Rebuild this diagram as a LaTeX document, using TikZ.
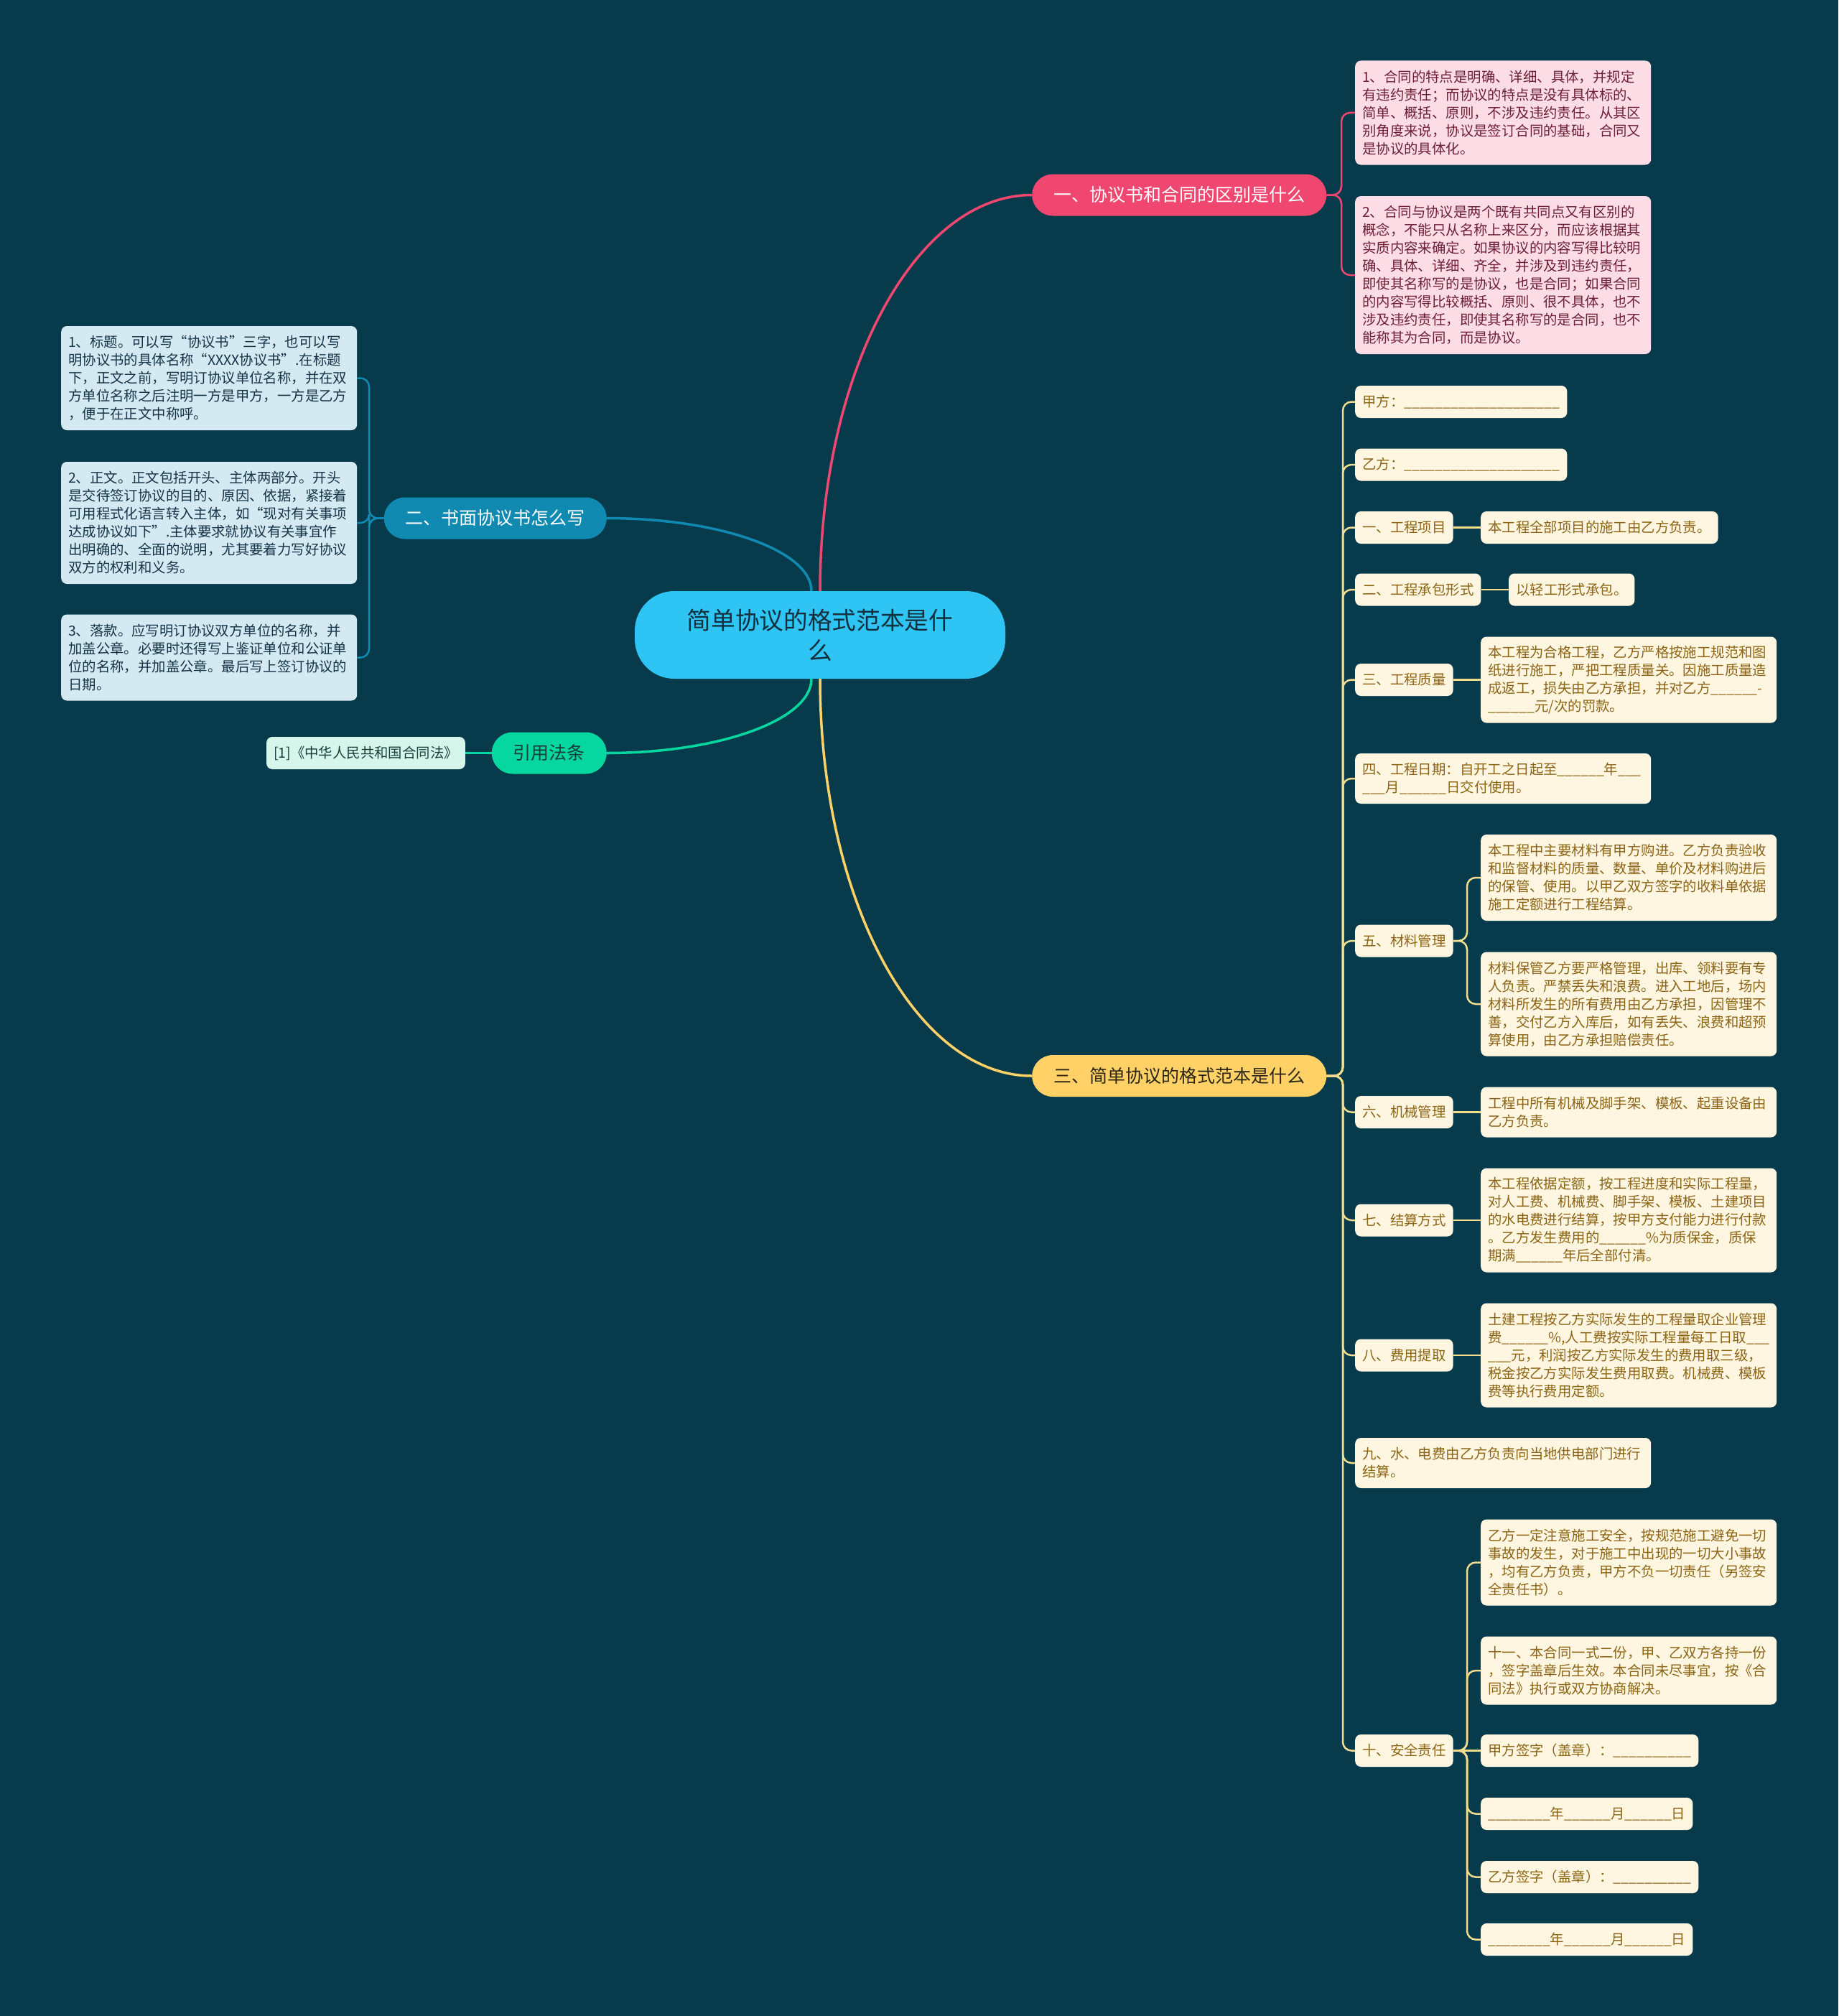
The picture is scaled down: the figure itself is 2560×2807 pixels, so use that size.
\documentclass[tikz,border=0pt]{standalone}
\usepackage{fontspec}
\setmainfont{Noto Sans CJK SC}
\definecolor{grund}{HTML}{073B4C}
\definecolor{kernfarbe}{HTML}{2EC4F3}
\definecolor{kerntext}{HTML}{14303F}
\definecolor{rot}{HTML}{EF476F}
\definecolor{rosa}{HTML}{FCDDE5}
\definecolor{rosatext}{HTML}{6D1F35}
\definecolor{blau}{HTML}{118AB2}
\definecolor{hellblau}{HTML}{D4E9F1}
\definecolor{blautext}{HTML}{163447}
\definecolor{gruen}{HTML}{06D6A0}
\definecolor{mint}{HTML}{D6F6EC}
\definecolor{gruentext}{HTML}{163F38}
\definecolor{gelb}{HTML}{FFD166}
\definecolor{gelblinie}{HTML}{F2DC8E}
\definecolor{creme}{HTML}{FEF6E1}
\definecolor{gelbtext}{HTML}{8C6414}
\definecolor{asttext}{HTML}{2B2616}
\newcommand{\luecke}[1]{\foreach \i in {1,...,#1}{\_}}
\tikzset{
  kern/.style={fill=kernfarbe, text=kerntext, rounded corners=55pt, minimum width=516pt,
    minimum height=122pt, align=center, inner sep=0pt, font=\fontsize{33.7}{42}\selectfont},
  ast/.style={fill=#1, rounded corners=29pt, minimum height=58pt, inner xsep=30pt,
    inner ysep=0pt, font=\fontsize{25}{30}\selectfont},
  blatt/.style={rounded corners=8pt, inner xsep=10pt, inner ysep=0pt, align=left,
    font=\fontsize{19.4}{25}\selectfont},
  breit/.style={text width=392pt},
  zeilen/.style={minimum height={25pt*#1+20pt}},
  hauptlinie/.style={line width=3.5pt},
  linie/.style={line width=2.5pt, rounded corners=12pt},
}
\begin{document}
\begin{tikzpicture}[x=1pt, y=-1pt]
\useasboundingbox (0,0) rectangle (2560,2807);
\fill[grund] (0,0) rectangle (2560,2807);
% Hauptknoten
\node[kern] (Z) at (1142,884) {简单协议的格式范本是什\\么};
% Aeste
\node[ast=rot, text=white, anchor=west] (P) at (1437,271.5) {一、协议书和合同的区别是什么};
\node[ast=blau, text=white, anchor=east] (B) at (845,721.5) {二、书面协议书怎么写};
\node[ast=gruen, text=gruentext, anchor=east] (G) at (845,1048.5) {引用法条};
\node[ast=gelb, text=asttext, anchor=west] (Y) at (1437,1498) {三、简单协议的格式范本是什么};
% Ast 1: rosa Blaetter
\node[blatt, breit, zeilen=5, fill=rosa, text=rosatext, anchor=west] (P1) at (1887,157) {1、合同的特点是明确、详细、具体，并规定\\有违约责任；而协议的特点是没有具体标的、\\简单、概括、原则，不涉及违约责任。从其区\\别角度来说，协议是签订合同的基础，合同又\\是协议的具体化。};
\node[blatt, breit, zeilen=8, fill=rosa, text=rosatext, anchor=west] (P2) at (1887,383) {2、合同与协议是两个既有共同点又有区别的\\概念，不能只从名称上来区分，而应该根据其\\实质内容来确定。如果协议的内容写得比较明\\确、具体、详细、齐全，并涉及到违约责任，\\即使其名称写的是协议，也是合同；如果合同\\的内容写得比较概括、原则、很不具体，也不\\涉及违约责任，即使其名称写的是合同，也不\\能称其为合同，而是协议。};
% Ast 2: blaue Blaetter
\node[blatt, breit, zeilen=5, fill=hellblau, text=blautext, anchor=west] (B1) at (85,526.5) {1、标题。可以写“协议书”三字，也可以写\\明协议书的具体名称“XXXX协议书”.在标题\\下，正文之前，写明订协议单位名称，并在双\\方单位名称之后注明一方是甲方，一方是乙方\\，便于在正文中称呼。};
\node[blatt, breit, zeilen=6, fill=hellblau, text=blautext, anchor=west] (B2) at (85,728) {2、正文。正文包括开头、主体两部分。开头\\是交待签订协议的目的、原因、依据，紧接着\\可用程式化语言转入主体，如“现对有关事项\\达成协议如下”.主体要求就协议有关事宜作\\出明确的、全面的说明，尤其要着力写好协议\\双方的权利和义务。};
\node[blatt, breit, zeilen=4, fill=hellblau, text=blautext, anchor=west] (B3) at (85,915.5) {3、落款。应写明订协议双方单位的名称，并\\加盖公章。必要时还得写上鉴证单位和公证单\\位的名称，并加盖公章。最后写上签订协议的\\日期。};
% Ast 4: Gesetz
\node[blatt, zeilen=1, fill=mint, text=gruentext, anchor=east] (G1) at (648,1048.5) {[1]《中华人民共和国合同法》};
% Ast 3: gelbe Blaetter
\node[blatt, zeilen=1, fill=creme, text=gelbtext, anchor=west] (Y1) at (1887,559.5) {甲方：\luecke{20}};
\node[blatt, zeilen=1, fill=creme, text=gelbtext, anchor=west] (Y2) at (1887,647) {乙方：\luecke{20}};
\node[blatt, zeilen=1, fill=creme, text=gelbtext, anchor=west] (Y3) at (1887,734.5) {一、工程项目};
\node[blatt, zeilen=1, fill=creme, text=gelbtext, anchor=west] (Y3a) at (2062,734.5) {本工程全部项目的施工由乙方负责。};
\node[blatt, zeilen=1, fill=creme, text=gelbtext, anchor=west] (Y4) at (1887,821) {二、工程承包形式};
\node[blatt, zeilen=1, fill=creme, text=gelbtext, anchor=west] (Y4a) at (2101,821) {以轻工形式承包。};
\node[blatt, zeilen=1, fill=creme, text=gelbtext, anchor=west] (Y5) at (1887,946.5) {三、工程质量};
\node[blatt, breit, zeilen=4, fill=creme, text=gelbtext, anchor=west] (Y5a) at (2062,946.5) {本工程为合格工程，乙方严格按施工规范和图\\纸进行施工，严把工程质量关。因施工质量造\\成返工，损失由乙方承担，并对乙方\luecke{6}-\\\luecke{6}元/次的罚款。};
\node[blatt, breit, zeilen=2, fill=creme, text=gelbtext, anchor=west] (Y6) at (1887,1084) {四、工程日期：自开工之日起至\luecke{6}年\luecke{3}\\\luecke{3}月\luecke{6}日交付使用。};
\node[blatt, zeilen=1, fill=creme, text=gelbtext, anchor=west] (Y7) at (1887,1310) {五、材料管理};
\node[blatt, breit, zeilen=4, fill=creme, text=gelbtext, anchor=west] (Y7a) at (2062,1222) {本工程中主要材料有甲方购进。乙方负责验收\\和监督材料的质量、数量、单价及材料购进后\\的保管、使用。以甲乙双方签字的收料单依据\\施工定额进行工程结算。};
\node[blatt, breit, zeilen=5, fill=creme, text=gelbtext, anchor=west] (Y7b) at (2062,1398) {材料保管乙方要严格管理，出库、领料要有专\\人负责。严禁丢失和浪费。进入工地后，场内\\材料所发生的所有费用由乙方承担，因管理不\\善，交付乙方入库后，如有丢失、浪费和超预\\算使用，由乙方承担赔偿责任。};
\node[blatt, zeilen=1, fill=creme, text=gelbtext, anchor=west] (Y8) at (1887,1548.5) {六、机械管理};
\node[blatt, breit, zeilen=2, fill=creme, text=gelbtext, anchor=west] (Y8a) at (2062,1548.5) {工程中所有机械及脚手架、模板、起重设备由\\乙方负责。};
\node[blatt, zeilen=1, fill=creme, text=gelbtext, anchor=west] (Y9) at (1887,1699) {七、结算方式};
\node[blatt, breit, zeilen=5, fill=creme, text=gelbtext, anchor=west] (Y9a) at (2062,1699) {本工程依据定额，按工程进度和实际工程量，\\对人工费、机械费、脚手架、模板、土建项目\\的水电费进行结算，按甲方支付能力进行付款\\。乙方发生费用的\luecke{6}\%为质保金，质保\\期满\luecke{6}年后全部付清。};
\node[blatt, zeilen=1, fill=creme, text=gelbtext, anchor=west] (Y10) at (1887,1887) {八、费用提取};
\node[blatt, breit, zeilen=5, fill=creme, text=gelbtext, anchor=west] (Y10a) at (2062,1887) {土建工程按乙方实际发生的工程量取企业管理\\费\luecke{6}\%,人工费按实际工程量每工日取\luecke{3}\\\luecke{3}元，利润按乙方实际发生的费用取三级，\\税金按乙方实际发生费用取费。机械费、模板\\费等执行费用定额。};
\node[blatt, breit, zeilen=2, fill=creme, text=gelbtext, anchor=west] (Y11) at (1887,2037) {九、水、电费由乙方负责向当地供电部门进行\\结算。};
\node[blatt, zeilen=1, fill=creme, text=gelbtext, anchor=west] (Y12) at (1887,2437.5) {十、安全责任};
\node[blatt, breit, zeilen=4, fill=creme, text=gelbtext, anchor=west] (Y12a) at (2062,2175.5) {乙方一定注意施工安全，按规范施工避免一切\\事故的发生，对于施工中出现的一切大小事故\\，均有乙方负责，甲方不负一切责任（另签安\\全责任书）。};
\node[blatt, breit, zeilen=3, fill=creme, text=gelbtext, anchor=west] (Y12b) at (2062,2326) {十一、本合同一式二份，甲、乙双方各持一份\\，签字盖章后生效。本合同未尽事宜，按《合\\同法》执行或双方协商解决。};
\node[blatt, zeilen=1, fill=creme, text=gelbtext, anchor=west] (Y12c) at (2062,2437.5) {甲方签字（盖章）：\luecke{10}};
\node[blatt, zeilen=1, fill=creme, text=gelbtext, anchor=west] (Y12d) at (2062,2525.5) {\luecke{8}年\luecke{6}月\luecke{6}日};
\node[blatt, zeilen=1, fill=creme, text=gelbtext, anchor=west] (Y12e) at (2062,2613.5) {乙方签字（盖章）：\luecke{10}};
\node[blatt, zeilen=1, fill=creme, text=gelbtext, anchor=west] (Y12f) at (2062,2700.5) {\luecke{8}年\luecke{6}月\luecke{6}日};
% Hauptlinien
\draw[hauptlinie, rot] (Z.north) .. controls +(0,-304) and +(-163,0) .. (P.west);
\draw[hauptlinie, blau] ([xshift=-12pt]Z.north) .. controls +(0,-56) and +(157,0) .. (B.east);
\draw[hauptlinie, gruen] ([xshift=-12pt]Z.south) .. controls +(0,57) and +(157,0) .. (G.east);
\draw[hauptlinie, gelb] (Z.south) .. controls +(0,305) and +(-163,0) .. (Y.west);
% Klammern rosa
\draw[linie, rot] (P.east) -- (1868,271.5) |- (P1.west);
\draw[linie, rot] (P.east) -- (1868,271.5) |- (P2.west);
% Klammern blau
\draw[linie, blau] (B.west) -- (514,721.5) |- (B1.east);
\draw[linie, blau] (B.west) -- (514,721.5) |- (B2.east);
\draw[linie, blau] (B.west) -- (514,721.5) |- (B3.east);
\draw[linie, gruen] (G.west) -- (G1.east);
% Stamm gelb
\draw[linie, gelblinie] (Y.east) -- (1870,1498) |- (Y1.west);
\draw[linie, gelblinie] (Y.east) -- (1870,1498) |- (Y2.west);
\draw[linie, gelblinie] (Y.east) -- (1870,1498) |- (Y3.west);
\draw[linie, gelblinie] (Y.east) -- (1870,1498) |- (Y4.west);
\draw[linie, gelblinie] (Y.east) -- (1870,1498) |- (Y5.west);
\draw[linie, gelblinie] (Y.east) -- (1870,1498) |- (Y6.west);
\draw[linie, gelblinie] (Y.east) -- (1870,1498) |- (Y7.west);
\draw[linie, gelblinie] (Y.east) -- (1870,1498) |- (Y8.west);
\draw[linie, gelblinie] (Y.east) -- (1870,1498) |- (Y9.west);
\draw[linie, gelblinie] (Y.east) -- (1870,1498) |- (Y10.west);
\draw[linie, gelblinie] (Y.east) -- (1870,1498) |- (Y11.west);
\draw[linie, gelblinie] (Y.east) -- (1870,1498) |- (Y12.west);
\draw[linie, gelblinie] (Y3.east) -- (Y3a.west);
\draw[linie, gelblinie] (Y4.east) -- (Y4a.west);
\draw[linie, gelblinie] (Y5.east) -- (Y5a.west);
\draw[linie, gelblinie] (Y8.east) -- (Y8a.west);
\draw[linie, gelblinie] (Y9.east) -- (Y9a.west);
\draw[linie, gelblinie] (Y10.east) -- (Y10a.west);
\draw[linie, gelblinie] (Y7.east) -- (2043,1310) |- (Y7a.west);
\draw[linie, gelblinie] (Y7.east) -- (2043,1310) |- (Y7b.west);
\draw[linie, gelblinie] (Y12.east) -- (2043,2437.5) |- (Y12a.west);
\draw[linie, gelblinie] (Y12.east) -- (2043,2437.5) |- (Y12b.west);
\draw[linie, gelblinie] (Y12.east) -- (Y12c.west);
\draw[linie, gelblinie] (Y12.east) -- (2043,2437.5) |- (Y12d.west);
\draw[linie, gelblinie] (Y12.east) -- (2043,2437.5) |- (Y12e.west);
\draw[linie, gelblinie] (Y12.east) -- (2043,2437.5) |- (Y12f.west);
\end{tikzpicture}
\end{document}
